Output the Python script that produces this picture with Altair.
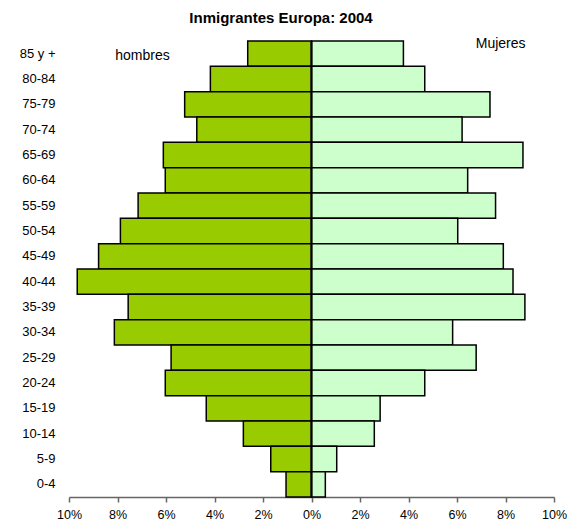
import altair as alt
import pandas as pd

ages = ["85 y +", "80-84", "75-79", "70-74", "65-69", "60-64", "55-59", "50-54",
        "45-49", "40-44", "35-39", "30-34", "25-29", "20-24", "15-19", "10-14",
        "5-9", "0-4"]
hombres = [2.63, 4.17, 5.23, 4.73, 6.11, 6.03, 7.15, 7.88, 8.78, 9.66, 7.56, 8.13,
           5.79, 6.03, 4.34, 2.81, 1.68, 1.05]
mujeres = [3.79, 4.67, 7.36, 6.21, 8.72, 6.44, 7.59, 6.03, 7.91, 8.31, 8.80, 5.82,
           6.79, 4.67, 2.83, 2.59, 1.04, 0.57]
sexos = ["hombres", "Mujeres"]
colores = ["#99CC00", "#CCFFCC"]
ticks = [-10, -8, -6, -4, -2, 0, 2, 4, 6, 8, 10]
titulo = "Inmigrantes Europa: 2004"

rows = []
for a, h, m in zip(ages, hombres, mujeres):
    rows.append({"edad": a, "sexo": "hombres", "valor": -h})
    rows.append({"edad": a, "sexo": "Mujeres", "valor": m})
df = pd.DataFrame(rows)

# annotation labels (sex names) placed in data space
ann = pd.DataFrame({"texto": ["hombres", "Mujeres"], "x": [-6.97, 7.8],
                    "edad": ["85 y +", "85 y +"]})

font = "Liberation Sans"

xscale = alt.Scale(domain=[-10, 10], nice=False, zero=False)
yscale = alt.Scale(domain=ages, paddingInner=0, paddingOuter=0)

bars = alt.Chart(df).mark_bar(stroke="black", strokeWidth=1.5).encode(
    x=alt.X("valor:Q", scale=xscale,
            axis=alt.Axis(values=ticks, title=None, grid=False,
                          labelExpr="abs(datum.value) + '%'",
                          labelFlush=False, labelOverlap=False,
                          domainColor="#666666", tickColor="#666666",
                          tickSize=5, labelPadding=6, labelFontSize=12.5,
                          labelFont=font, labelColor="black",
                          domainWidth=1.5, tickWidth=1.5)),
    y=alt.Y("edad:N", scale=yscale, sort=ages,
            axis=alt.Axis(title=None, domain=False, ticks=False,
                          labelPadding=14, labelFontSize=13, labelFont=font,
                          labelColor="black", labelAlign="right")),
    color=alt.Color("sexo:N", scale=alt.Scale(domain=sexos, range=colores),
                    legend=None),
)

center = alt.Chart(pd.DataFrame({"x": [0]})).mark_rule(
    color="black", strokeWidth=2).encode(x=alt.X("x:Q", scale=xscale))

hombres_txt = alt.Chart(ann.iloc[[0]]).mark_text(
    font=font, fontSize=14, color="black", dy=2).encode(
    x=alt.X("x:Q", scale=xscale), y=alt.Y("edad:N", scale=yscale, sort=ages),
    text="texto:N")
mujeres_txt = alt.Chart(ann.iloc[[1]]).mark_text(
    font=font, fontSize=14, color="black", dy=-10).encode(
    x=alt.X("x:Q", scale=xscale), y=alt.Y("edad:N", scale=yscale, sort=ages),
    text="texto:N")

title_txt = alt.Chart(pd.DataFrame({"t": [titulo]})).mark_text(
    font=font, fontSize=15, fontWeight="bold", color="black",
    baseline="alphabetic", align="center").encode(
    x=alt.value(212), y=alt.value(-18), text="t:N")

chart = alt.layer(bars, center, hombres_txt, mujeres_txt, title_txt).properties(
    width=485, height=456,
    autosize=alt.AutoSizeParams(type="none"),
    padding={"left": 61, "top": 33, "right": 13, "bottom": 26},
).configure_view(stroke=None, fill="white")

chart.save("out.html", embed_options={"renderer": "svg", "actions": False})
